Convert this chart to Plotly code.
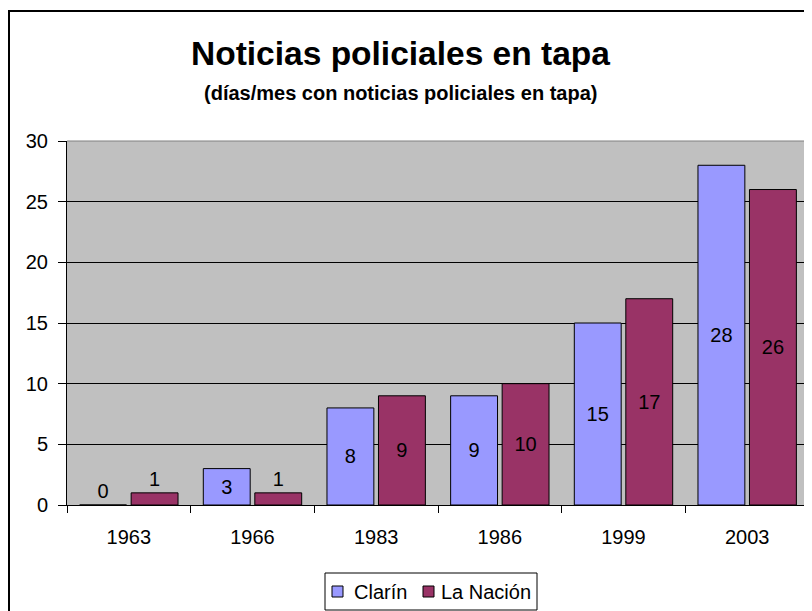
import plotly.graph_objects as go

years = ["1963", "1966", "1983", "1986", "1999", "2003"]
clarin = [0, 3, 8, 9, 15, 28]
la_nacion = [1, 1, 9, 10, 17, 26]
series_names = ["Clarín", "La Nación"]
series_colors = ["#9999FF", "#993366"]
title_text = "Noticias policiales en tapa"
subtitle_text = "(días/mes con noticias policiales en tapa)"

FONT = "Liberation Sans, Arial, Helvetica, sans-serif"

# page body has an 8px default margin; compensate so screen pixels match
OFF = 8
W, H = 812, 611
# plot-area geometry in screen pixels
L, R, T, B = 67, 809, 141, 505
PW, PH = R - L, B - T

def px_x(px):
    return (px - L) / PW

def px_y(py):
    return (B - py) / PH

def positions(vals):
    return ["inside" if v >= 3 else "outside" for v in vals]

fig = go.Figure()
for name, vals, col in zip(series_names, [clarin, la_nacion], series_colors):
    fig.add_trace(go.Bar(
        x=years, y=vals, name=name,
        marker=dict(color=col, line=dict(color="#000000", width=1)),
        text=[str(v) for v in vals], textposition=positions(vals),
        insidetextanchor="middle", constraintext="none",
        textfont=dict(family=FONT, size=20, color="#000000"),
        cliponaxis=False, showlegend=False,
    ))

shapes = [
    # outer chart border (extends beyond the right/bottom edges)
    dict(type="rect", xref="paper", yref="paper",
         x0=px_x(OFF + 1), x1=px_x(W + 40), y0=px_y(H + 40), y1=px_y(11),
         line=dict(color="#000000", width=2), fillcolor="rgba(0,0,0,0)", layer="below"),
    # gray plot-area border on top and right
    dict(type="line", xref="paper", yref="paper", x0=0, x1=1, y0=1, y1=1,
         line=dict(color="#808080", width=1), layer="above"),
    dict(type="line", xref="paper", yref="paper", x0=1, x1=1, y0=0, y1=1,
         line=dict(color="#808080", width=1), layer="above"),
    # legend box
    dict(type="rect", xref="paper", yref="paper",
         x0=px_x(325), x1=px_x(537), y0=px_y(610), y1=px_y(573),
         line=dict(color="#000000", width=1), fillcolor="white", layer="above"),
]
annotations = [
    dict(text="<b>" + title_text + "</b>", xref="paper", yref="paper",
         x=px_x(400), y=px_y(54), xanchor="center", yanchor="middle",
         showarrow=False, font=dict(family=FONT, size=33.5, color="#000000")),
    dict(text="<b>" + subtitle_text + "</b>", xref="paper", yref="paper",
         x=px_x(400), y=px_y(93), xanchor="center", yanchor="middle",
         showarrow=False, font=dict(family=FONT, size=20, color="#000000")),
]
# legend entries: swatch + label
legend_swatch_x = [332, 423]
legend_text_x = [352, 439]
for name, col, sx, tx in zip(series_names, series_colors, legend_swatch_x, legend_text_x):
    shapes.append(dict(type="rect", xref="paper", yref="paper",
                       x0=px_x(sx), x1=px_x(sx + 11), y0=px_y(597), y1=px_y(586),
                       line=dict(color="#000000", width=1), fillcolor=col, layer="above"))
    annotations.append(dict(text=name, xref="paper", yref="paper",
                            x=px_x(tx), y=px_y(591.5), xanchor="left", yanchor="middle",
                            showarrow=False,
                            font=dict(family=FONT, size=20, color="#000000")))

fig.update_layout(
    width=W, height=H,
    margin=dict(l=L - OFF, r=W - (R - OFF), t=T - OFF, b=H - (B - OFF), pad=0,
                autoexpand=False),
    paper_bgcolor="white",
    plot_bgcolor="#C0C0C0",
    barmode="group",
    bargap=0.167,
    bargroupgap=0.09,
    font=dict(family=FONT, size=20, color="#000000"),
    showlegend=False,
    xaxis=dict(
        type="category",
        showline=True, linecolor="#000000", linewidth=1,
        ticks="outside", tickson="boundaries", ticklen=7,
        tickcolor="#000000", tickwidth=1,
        ticklabelstandoff=14,
        showgrid=False,
        tickfont=dict(family=FONT, size=20, color="#000000"),
    ),
    yaxis=dict(
        range=[0, 30], dtick=5, tick0=0,
        showline=True, linecolor="#000000", linewidth=1,
        ticks="outside", ticklen=8, tickcolor="#000000", tickwidth=1,
        ticklabelstandoff=6,
        showgrid=True, gridcolor="#000000", gridwidth=1,
        zeroline=False,
        tickfont=dict(family=FONT, size=20, color="#000000"),
    ),
    shapes=shapes,
    annotations=annotations,
)

fig.write_html("out.html")
